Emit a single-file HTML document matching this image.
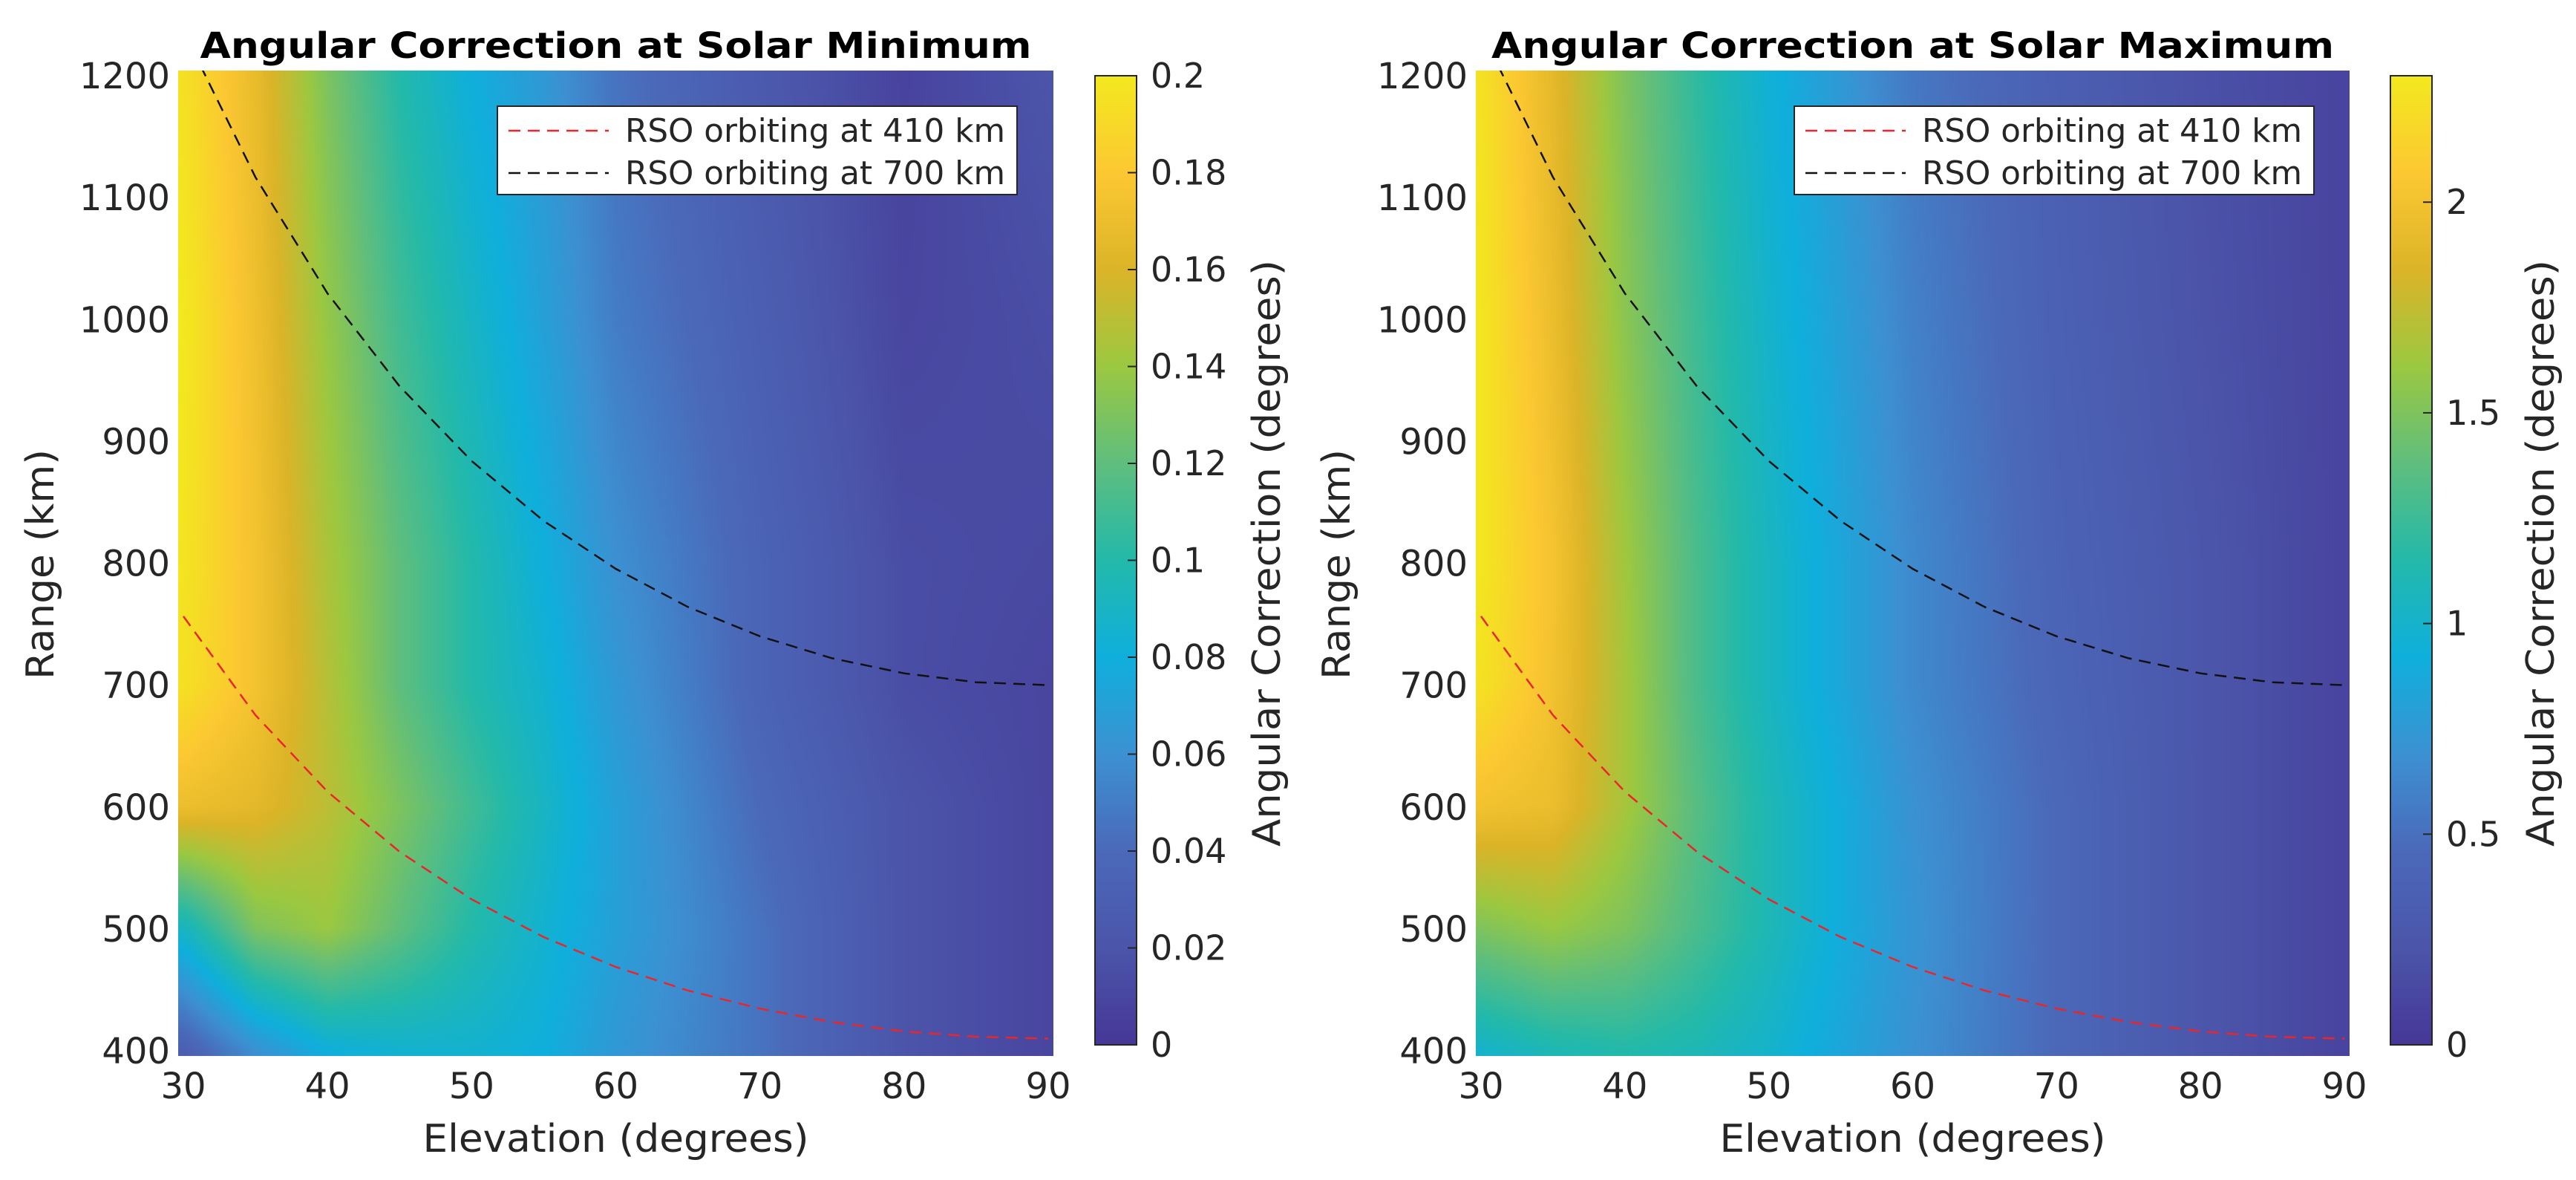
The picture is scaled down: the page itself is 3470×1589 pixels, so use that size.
<!DOCTYPE html>
<html><head><meta charset="utf-8">
<style>
html,body{margin:0;padding:0;background:#fff;}
#wrap{position:relative;width:3470px;height:1589px;overflow:hidden;}
canvas{position:absolute;}
svg{position:absolute;left:0;top:0;}
text{font-family:"DejaVu Sans","Liberation Sans",sans-serif;fill:#262626;}
</style></head>
<body>
<div id="wrap">
<canvas id="hm1"></canvas>
<canvas id="hm2"></canvas>
<svg id="svg" width="3470" height="1589"></svg>
</div>
<script>
// ---- data ----
const elevations = [30,35,40,45,50,55,60,70,80,90];
const ranges = [400,500,600,700,800,1000,1200];
// solar minimum (degrees), rows = ranges
const solarMin = [
 [0.03,0.06,0.08,0.085,0.085,0.08,0.065,0.045,0.02,0.01],
 [0.09,0.13,0.14,0.12,0.10,0.085,0.07,0.045,0.02,0.01],
 [0.17,0.165,0.15,0.13,0.11,0.09,0.07,0.04,0.02,0.01],
 [0.195,0.175,0.148,0.12,0.10,0.085,0.065,0.035,0.015,0.01],
 [0.197,0.175,0.145,0.12,0.10,0.08,0.06,0.035,0.015,0.012],
 [0.2,0.172,0.138,0.11,0.09,0.07,0.05,0.03,0.01,0.015],
 [0.195,0.168,0.13,0.10,0.08,0.065,0.045,0.025,0.008,0.02]
];
const solarMax = [
 [1.0,1.1,1.15,1.1,1.0,0.85,0.7,0.45,0.25,0.1],
 [1.5,1.6,1.5,1.3,1.1,0.9,0.72,0.45,0.25,0.1],
 [2.0,1.95,1.65,1.35,1.1,0.9,0.7,0.45,0.25,0.1],
 [2.25,2.0,1.65,1.3,1.05,0.85,0.65,0.42,0.25,0.1],
 [2.28,2.02,1.63,1.3,1.05,0.85,0.65,0.4,0.25,0.1],
 [2.28,1.95,1.55,1.25,1.0,0.8,0.6,0.37,0.22,0.1],
 [2.25,1.9,1.5,1.2,0.95,0.75,0.55,0.35,0.2,0.1]
];
const curveElev = [30,35,40,45,50,55,60,65,70,75,80,85,90];
const orbit410 = [756.5,675.4,612.6,563.3,524.3,493.3,468.8,449.5,434.6,423.6,415.9,411.5,410];
const orbit700 = [1236.8,1116.8,1021.4,945.2,883.9,834.7,795.4,764.2,740.1,722.1,709.7,702.4,700];
const xTicks = [30,40,50,60,70,80,90];
const yTicks = [400,500,600,700,800,900,1000,1100,1200];
const cbTicksMin = [0,0.02,0.04,0.06,0.08,0.1,0.12,0.14,0.16,0.18,0.2];
const cbLabelsMin = ["0","0.02","0.04","0.06","0.08","0.1","0.12","0.14","0.16","0.18","0.2"];
const cbTicksMax = [0,0.5,1,1.5,2];
const cbLabelsMax = ["0","0.5","1","1.5","2"];

const cmap = [[70,55,150],[75,85,170],[75,105,185],[60,145,210],[15,175,220],[35,185,170],[95,190,125],[155,200,65],[220,180,40],[252,200,50],[242,233,30]];
function colorAt(t){t=Math.max(0,Math.min(1,t));const p=t*(cmap.length-1);const i=Math.min(cmap.length-2,Math.floor(p));const f=p-i;
 return cmap[i].map((c,k)=>Math.round(c+(cmap[i+1][k]-c)*f));}
function interp1(arr,v){ if(v<=arr[0])return[0,0]; if(v>=arr[arr.length-1])return[arr.length-2,1];
 for(let i=0;i<arr.length-1;i++){if(v<=arr[i+1])return[i,(v-arr[i])/(arr[i+1]-arr[i])];}}
function sample(grid,e,r){const [i,fx]=interp1(elevations,e);const [j,fy]=interp1(ranges,r);
 const a=grid[j][i],b=grid[j][i+1],c=grid[j+1][i],d=grid[j+1][i+1];
 return (a*(1-fx)+b*fx)*(1-fy)+(c*(1-fx)+d*fx)*fy;}

const NS="http://www.w3.org/2000/svg";
const svg=document.getElementById('svg');
function mk(tag,attrs,parent,txt){const el=document.createElementNS(NS,tag);for(const k in attrs)el.setAttribute(k,attrs[k]);if(txt!==undefined)el.textContent=txt;(parent||svg).appendChild(el);return el;}

function panel(cfg){
 const X=e=>cfg.x0+(e-30)/(90-30)*(cfg.x1-cfg.x0);
 const Y=r=>cfg.y0+(r-400)/(1200-400)*(cfg.y1-cfg.y0);
 const g=mk('g',{});
 
 
 const pad=7;const L=cfg.x0-pad,R=cfg.x1+pad,T=cfg.y1-pad,B=cfg.y0+pad;
 const cv=document.getElementById(cfg.canvas);const W=300,H=330;cv.width=W;cv.height=H;
 cv.style.left=L+'px';cv.style.top=T+'px';cv.style.width=(R-L)+'px';cv.style.height=(B-T)+'px';
 const ctx=cv.getContext('2d');const img=ctx.createImageData(W,H);
 for(let py=0;py<H;py++){const yy=T+(py+0.5)/H*(B-T);const r=400+(yy-cfg.y0)/(cfg.y1-cfg.y0)*800;
  for(let px=0;px<W;px++){const xx=L+(px+0.5)/W*(R-L);const e=30+(xx-cfg.x0)/(cfg.x1-cfg.x0)*60;
   const v=sample(cfg.grid,Math.max(30,Math.min(90,e)),Math.max(400,Math.min(1200,r)));
   const c=colorAt(v/cfg.vmax);const o=(py*W+px)*4;img.data[o]=c[0];img.data[o+1]=c[1];img.data[o+2]=c[2];img.data[o+3]=255;}}
 ctx.putImageData(img,0,0);
 const cid='clip'+cfg.canvas;const cp=mk('clipPath',{id:cid},g);mk('rect',{x:L,y:T,width:R-L,height:B-T},cp);
 const mkPath=(vals,color,name)=>{let d='';curveElev.forEach((e,i)=>{d+=(i?'L':'M')+X(e).toFixed(1)+','+Y(vals[i]).toFixed(1);});
  const p=mk('path',{d:d,fill:'none',stroke:color,'stroke-width':2.5,'stroke-dasharray':'16,10','clip-path':'url(#'+cid+')'},g);
  
  };
 mkPath(orbit410,'#e8262b','orbit-410-line');
 mkPath(orbit700,'#111','orbit-700-line');
 xTicks.forEach(t=>{const tx=mk('text',{x:X(t),y:cfg.y0+64,'font-size':48,'text-anchor':'middle'},g,String(t));
  
  });
 yTicks.forEach(t=>{const tx=mk('text',{x:cfg.x0-18,y:Y(t)+17,'font-size':48,'text-anchor':'end'},g,String(t));
  
  });
 const ttl=mk('text',{x:(cfg.x0+cfg.x1)/2,y:78,'font-size':48,'font-weight':'bold','text-anchor':'middle',style:'fill:#000',textLength:cfg.titleLen,lengthAdjust:'spacingAndGlyphs'},g,cfg.title);
 
 
 const xl=mk('text',{x:(cfg.x0+cfg.x1)/2,y:1551,'font-size':52,'text-anchor':'middle',textLength:520,lengthAdjust:'spacingAndGlyphs'},g,'Elevation (degrees)');
 
 
 const yl=mk('text',{x:0,y:0,'font-size':52,'text-anchor':'middle',transform:'translate('+(cfg.ylabX)+',760) rotate(-90)',textLength:310,lengthAdjust:'spacingAndGlyphs'},g,'Range (km)');
 
 
 const lg=mk('g',{},g);
 
 
 mk('rect',{x:cfg.legX,y:143,width:700,height:119,fill:'#fff',stroke:'#262626','stroke-width':2},lg);
 [['RSO orbiting at 410 km','#e8262b',176],['RSO orbiting at 700 km','#111',233]].forEach(([t,c,yy])=>{
  const le=mk('g',{},lg);
  
  
  mk('line',{x1:cfg.legX+15,x2:cfg.legX+150,y1:yy,y2:yy,stroke:c,'stroke-width':2.5,'stroke-dasharray':'16,10'},le);
  mk('text',{x:cfg.legX+172,y:yy+15,'font-size':44,textLength:512,lengthAdjust:'spacingAndGlyphs'},le,t);
 });
 const cb=mk('g',{},g);
 
 
 const gid='grad'+cfg.canvas;const lgd=mk('linearGradient',{id:gid,x1:0,y1:1,x2:0,y2:0},cb);
 cmap.forEach((c,i)=>mk('stop',{offset:i/(cmap.length-1),'stop-color':'rgb('+c.join(',')+')'},lgd));
 const cbT=102,cbB=1407;
 mk('rect',{x:cfg.cbX,y:cbT,width:56,height:cbB-cbT,fill:'url(#'+gid+')',stroke:'#262626','stroke-width':2},cb);
 const CY=v=>cbB-(v/cfg.vmax)*(cbB-cbT);
 cfg.cbTicks.forEach((v,i)=>{mk('line',{x1:cfg.cbX+44,x2:cfg.cbX+56,y1:CY(v),y2:CY(v),stroke:'#262626','stroke-width':2},cb);
  const tl=mk('text',{x:cfg.cbX+75,y:CY(v)+16,'font-size':46},cb,cfg.cbLabels[i]);
  
  });
 const cl=mk('text',{x:0,y:0,'font-size':52,'text-anchor':'middle',transform:'translate('+cfg.cbLabX+',745) rotate(-90)',textLength:790,lengthAdjust:'spacingAndGlyphs'},cb,'Angular Correction (degrees)');
 
 
}
panel({name:'panel-solar-minimum',canvas:'hm1',grid:solarMin,vmax:0.2,x0:247,x1:1412,y0:1415,y1:102,title:'Angular Correction at Solar Minimum',titleLen:1120,ylabX:72,legX:670,cbX:1475,cbTicks:cbTicksMin,cbLabels:cbLabelsMin,cbLabX:1724});
panel({name:'panel-solar-maximum',canvas:'hm2',grid:solarMax,vmax:2.3,x0:1995,x1:3158,y0:1415,y1:102,title:'Angular Correction at Solar Maximum',titleLen:1135,ylabX:1818,legX:2417,cbX:3220,cbTicks:cbTicksMax,cbLabels:cbLabelsMax,cbLabX:3440});
</script>
</body></html>
